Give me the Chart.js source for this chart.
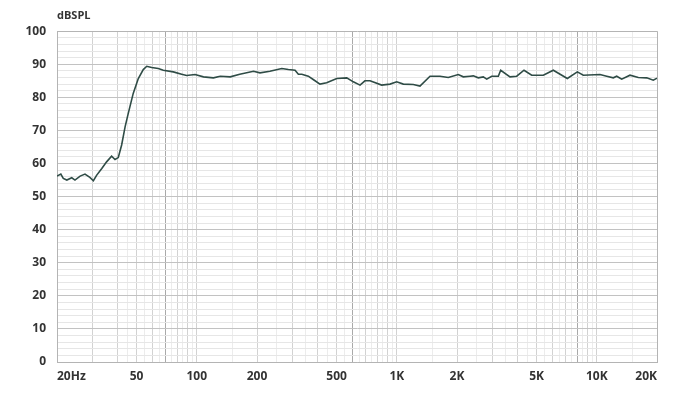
<!DOCTYPE html>
<html>
<head>
<meta charset="utf-8">
<script src="https://cdn.jsdelivr.net/npm/chart.js@4.4.1/dist/chart.umd.min.js"></script>
<style>
  body { margin: 0; background: #fff; }
  canvas { display: block; }
</style>
</head>
<body>
<canvas id="fr" width="700" height="396"></canvas>
<script>
// frequency response
var freqHz = [20, 20.9, 21.5, 22.4, 23.7, 24.6, 26.1, 27.6, 29.2, 30.4, 31.6, 33.5, 35.4, 37.5, 39, 40.5,
  42.1, 43.8, 45.4, 48.1, 51, 54, 56.2, 59.5, 64.2, 68, 76.3, 84, 89, 98, 108, 121, 131, 147, 164, 192,
  207, 232, 266, 287, 310, 322, 335, 361, 382, 413, 446, 501, 562, 606, 655, 693, 735, 840, 925, 999,
  1078, 1209, 1306, 1466, 1644, 1809, 2030, 2150, 2323, 2413, 2556, 2707, 2816, 2982, 3218, 3308, 3681,
  3977, 4326, 4727, 5402, 6061, 7123, 7992, 8563, 10375, 11210, 12094, 12576, 13322, 14655, 16128,
  17766, 19166, 20000];
var splDb = [56.2, 56.8, 55.5, 55, 55.7, 55, 56.2, 56.8, 55.8, 54.8, 56.5, 58.5, 60.5, 62.2, 61.2, 61.8,
  65.6, 71.1, 75.1, 81.2, 85.7, 88.4, 89.4, 89, 88.7, 88.2, 87.7, 87, 86.6, 86.9, 86.2, 85.9, 86.4, 86.2, 87, 87.9,
  87.4, 87.9, 88.7, 88.4, 88.2, 87, 87, 86.4, 85.4, 84, 84.4, 85.7, 85.9, 84.7, 83.7, 85, 85, 83.7, 84, 84.7,
  84, 83.9, 83.4, 86.4, 86.4, 86, 86.9, 86.2, 86.4, 86.5, 85.9, 86.2, 85.5, 86.4, 86.4, 88.2, 86.2,
  86.4, 88.2, 86.7, 86.7, 88.2, 85.7, 87.7, 86.7, 86.9, 86.4, 85.9, 86.4, 85.5, 86.7, 86,
  85.9, 85.2, 85.8];

var xTickLabels = {20: '20Hz', 50: '50', 100: '100', 200: '200', 500: '500',
  1000: '1K', 2000: '2K', 5000: '5K', 10000: '10K', 20000: '20K'};
var yMin = 0, yMax = 100, yLabelStep = 10, yGridStep = 2;

// vertical grid: whole steps, half steps and the few darker lines
var xGridMain = [20, 30, 40, 50, 60, 70, 80, 90, 100, 200, 300, 400, 500, 600, 700, 800, 900,
  1000, 2000, 3000, 4000, 5000, 6000, 7000, 8000, 9000, 10000, 20000];
var xGridHalf = [45, 55, 65, 75, 85, 95, 150, 250, 350, 450, 550, 650, 750, 850, 950,
  1500, 2500, 3500, 4500, 5500, 6500, 7500, 8500, 9500, 15000];
var xGridDark = [70, 600, 8000];

var xGrid = xGridMain.concat(xGridHalf).sort(function(a, b){ return a - b; });
var yGrid = [];
for (var v = yMin; v <= yMax; v += yGridStep) yGrid.push(v);

var points = freqHz.map(function(f, i){ return {x: f, y: splDb[i]}; });

var tickFont = {family: 'Open Sans', size: 12, weight: 'bold'};
var edge = '#b4b4b4';

new Chart(document.getElementById('fr'), {
  type: 'line',
  data: {
    datasets: [{
      data: points,
      borderColor: '#2f4c46',
      borderWidth: 1.6,
      pointRadius: 0,
      tension: 0,
      fill: false
    }]
  },
  options: {
    responsive: false,
    animation: false,
    layout: {padding: {left: 0, right: 43, top: 0, bottom: 0}},
    plugins: {
      legend: {display: false},
      tooltip: {enabled: false},
      title: {
        display: true,
        text: 'dBSPL',
        align: 'start',
        fullSize: false,
        color: '#333',
        font: {family: 'Open Sans', size: 11, weight: 'bold'},
        padding: {top: 9, bottom: 9}
      }
    },
    scales: {
      x: {
        type: 'logarithmic',
        min: 20,
        max: 20000,
        afterBuildTicks: function(s){ s.ticks = xGrid.map(function(f){ return {value: f}; }); },
        afterFit: function(s){ s.height = 34; },
        ticks: {
          autoSkip: false,
          maxRotation: 0,
          align: 'inner',
          padding: 7,
          color: '#333',
          font: tickFont,
          callback: function(value){ return xTickLabels[value] || ''; }
        },
        grid: {
          drawTicks: false,
          lineWidth: 1,
          color: function(ctx){
            var f = ctx.tick && ctx.tick.value;
            if (f === 20 || f === 20000) return edge;
            if (xGridDark.indexOf(f) >= 0) return '#a9a9a9';
            if (xGridHalf.indexOf(f) >= 0) return '#ececec';
            return '#d2d2d2';
          }
        },
        border: {display: true, color: edge}
      },
      y: {
        min: yMin,
        max: yMax,
        afterBuildTicks: function(s){ s.ticks = yGrid.map(function(v){ return {value: v}; }); },
        afterFit: function(s){ s.width = 57; },
        ticks: {
          autoSkip: false,
          padding: 11,
          color: '#333',
          font: tickFont,
          callback: function(value){ return value % yLabelStep === 0 ? String(value) : ''; }
        },
        grid: {
          drawTicks: false,
          lineWidth: 1,
          color: function(ctx){
            var v = ctx.tick && ctx.tick.value;
            if (v === yMin || v === yMax) return edge;
            return v % yLabelStep === 0 ? '#c2c2c2' : '#e6e6e6';
          }
        },
        border: {display: true, color: edge}
      }
    }
  }
});
</script>
</body>
</html>
